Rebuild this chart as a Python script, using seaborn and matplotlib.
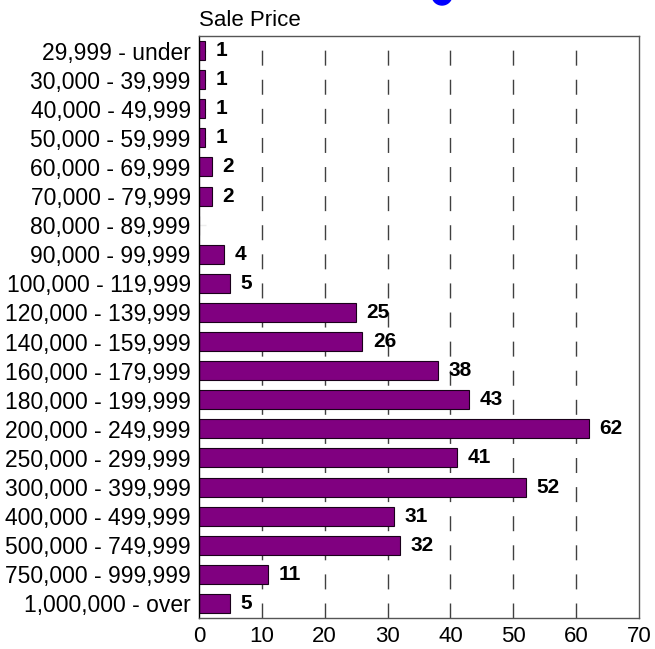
import matplotlib
matplotlib.use('Agg')
import matplotlib.pyplot as plt
from matplotlib.patches import Ellipse
import pandas as pd
import seaborn as sns

price_ranges = ['29,999 - under', '30,000 - 39,999', '40,000 - 49,999', '50,000 - 59,999',
                '60,000 - 69,999', '70,000 - 79,999', '80,000 - 89,999', '90,000 - 99,999',
                '100,000 - 119,999', '120,000 - 139,999', '140,000 - 159,999', '160,000 - 179,999',
                '180,000 - 199,999', '200,000 - 249,999', '250,000 - 299,999', '300,000 - 399,999',
                '400,000 - 499,999', '500,000 - 749,999', '750,000 - 999,999', '1,000,000 - over']
sales = [1, 1, 1, 1, 2, 2, 0, 4, 5, 25, 26, 38, 43, 62, 41, 52, 31, 32, 11, 5]
x_ticks = [0, 10, 20, 30, 40, 50, 60, 70]

data = pd.DataFrame({'Range': price_ranges, 'Sales': sales})

sns.set_style('white')
plt.rcParams['font.family'] = ['Liberation Sans', 'DejaVu Sans']
plt.rcParams['text.color'] = 'black'

fig = plt.figure(figsize=(6.55, 6.49), dpi=100)
ax = fig.add_axes([199/655, 31/649, 440/655, 582/649])

# dashed grid behind the bars
for x in x_ticks[1:-1]:
    ax.axvline(x, color='#404040', lw=1, linestyle=(0, (10.8, 10.15)), zorder=0.5)

sns.barplot(data=data, x='Sales', y='Range', orient='h', color='#800080',
            saturation=1, width=0.65, edgecolor='#1a001a', linewidth=0.8, ax=ax)

ax.bar_label(ax.containers[0], labels=[str(v) if v else '' for v in sales],
             padding=7.5, fontsize=15, fontweight='bold', color='black')

ax.set_xlim(0, 70)
ax.set_xticks(x_ticks)
ax.set_xlabel('')
ax.set_ylabel('')
ax.tick_params(axis='x', length=0, pad=6, labelsize=16, labelcolor='black')
ax.tick_params(axis='y', direction='in', length=5, width=1, color='#eeeeee',
               pad=6, labelsize=16.5, left=True, labelcolor='black')

for side in ['top', 'right', 'bottom']:
    ax.spines[side].set_color('#555555')
    ax.spines[side].set_linewidth(1)
ax.spines['left'].set_color('black')
ax.spines['left'].set_linewidth(1)

fig.text(199/655, 1 - 20/649, 'Sale Price', fontsize=16, va='center', ha='left')

fig.add_artist(Ellipse((442/655, 1 + 5/649), width=20/655, height=20/649,
                       transform=fig.transFigure, color='blue', clip_on=False))

fig.savefig('out.png', dpi=100)
